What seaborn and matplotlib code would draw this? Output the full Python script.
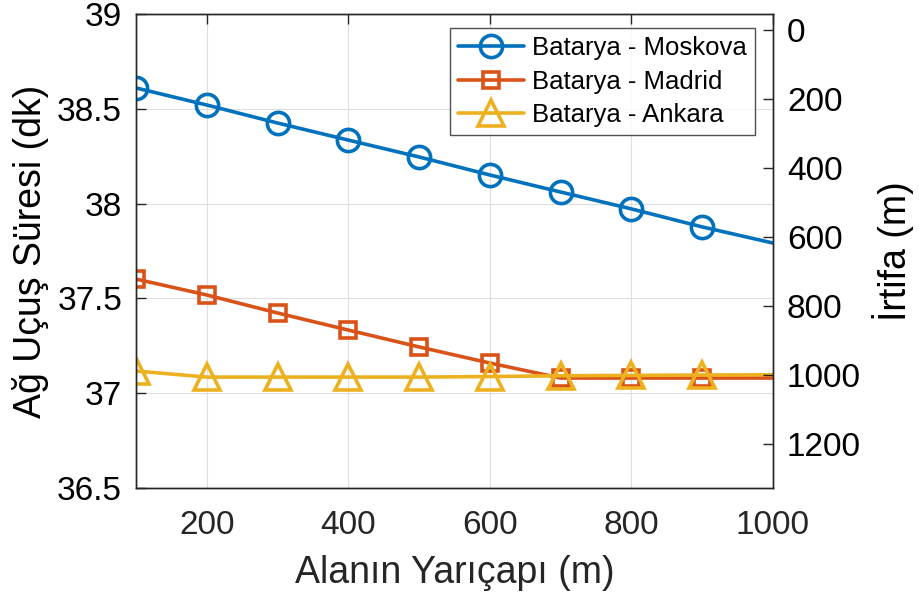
import matplotlib
matplotlib.use("Agg")
import matplotlib.pyplot as plt
import seaborn as sns
import pandas as pd

radius = [100, 200, 300, 400, 500, 600, 700, 800, 900, 1000]
moskova = [38.610, 38.520, 38.425, 38.335, 38.246, 38.151, 38.061, 37.972, 37.877, 37.792]
madrid = [37.602, 37.518, 37.423, 37.333, 37.244, 37.159, 37.080, 37.080, 37.080, 37.080]
ankara = [37.117, 37.085, 37.085, 37.085, 37.085, 37.088, 37.092, 37.094, 37.096, 37.097]
series_names = ["Batarya - Moskova", "Batarya - Madrid", "Batarya - Ankara"]
colors = ["#0072BD", "#D95319", "#EDB120"]
markers = ["o", "s", "^"]
x_ticks = [200, 400, 600, 800, 1000]
y_ticks = [36.5, 37, 37.5, 38, 38.5, 39]
alt_ticks = [0, 200, 400, 600, 800, 1000, 1200]

sns.set_theme(style="white")
plt.rcParams["font.family"] = ["Liberation Sans", "DejaVu Sans"]

df = pd.DataFrame({
    "x": radius * 3,
    "y": moskova + madrid + ankara,
    "s": [series_names[0]] * 10 + [series_names[1]] * 10 + [series_names[2]] * 10,
})

fig = plt.figure(figsize=(9.2, 6.01), dpi=100)
ax = fig.add_axes([136 / 920, 1 - 488 / 601, (773 - 136) / 920, (488 - 14) / 601])

dark = "#262626"
msizes = {"o": 16, "s": 12, "^": 19}
for name, c, m in zip(series_names, colors, markers):
    sub = df[df["s"] == name]
    sns.lineplot(data=sub, x="x", y="y", ax=ax, color=c, marker=m,
                 markersize=msizes[m], markeredgewidth=2.6,
                 markerfacecolor="none", markeredgecolor=c, linewidth=2.6,
                 label=name, markevery=list(range(9)))

ax.set_xlim(100, 1000)
ax.set_ylim(36.5, 39)
ax.set_xticks(x_ticks)
ax.set_yticks(y_ticks)
ax.set_yticklabels(["36.5", "37", "37.5", "38", "38.5", "39"])
ax.grid(True, color="#dedede", linewidth=0.8)
ax.tick_params(axis="both", direction="in", length=7, width=1, colors=dark,
               labelsize=24, labelcolor="black", top=True)
ax.tick_params(axis="y", pad=10)
ax.tick_params(axis="x", pad=16, labelcolor=dark)
for s in ax.spines.values():
    s.set_color(dark)
    s.set_linewidth(1)
ax.set_xlabel("Alanın Yarıçapı (m)", fontsize=27, color=dark, labelpad=10)
ax.set_ylabel("Ağ Uçuş Süresi (dk)", fontsize=27, color="black", labelpad=6)

leg = ax.legend(loc="upper right", bbox_to_anchor=(0.971, 0.97), fontsize=18.5,
                frameon=True, fancybox=False, edgecolor=dark, handlelength=2.6,
                borderpad=0.3, labelspacing=0.38, handletextpad=0.3,
                borderaxespad=0.0)
leg.get_frame().set_linewidth(1)
for t in leg.get_texts():
    t.set_color("black")

ax2 = ax.twinx()
ax2.set_ylim(1327, -46)
ax2.set_yticks(alt_ticks)
ax2.tick_params(axis="y", direction="in", length=7, width=1, colors=dark,
                labelsize=24, labelcolor="black", pad=10)
for s in ax2.spines.values():
    s.set_color(dark)
    s.set_linewidth(1)
ax2.set_ylabel("İrtifa (m)", fontsize=27, color="black", labelpad=8)
ax2.grid(False)

fig.savefig("out.png", dpi=100)
